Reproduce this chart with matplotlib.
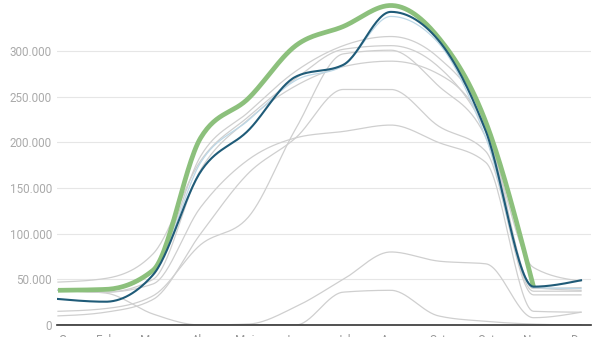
import numpy as np
import matplotlib.pyplot as plt

plt.rcParams['font.family'] = ['Roboto', 'DejaVu Sans']

months = ['Gen', 'Feb', 'Març', 'Abr', 'Maig', 'Juny', 'Jul', 'Ago', 'Set', 'Oct', 'Nov', 'Des']

# other years, drawn in grey behind the two highlighted series
others = [
    [38, 38, 60, 185, 233, 278, 306, 316, 293, 222, 41, 38],
    [47, 51, 78, 180, 228, 270, 302, 306, 283, 212, 63, 48],
    [15, 18, 32, 88, 118, 215, 297, 301, 262, 205, 37, 37],
    [38, 36, 50, 170, 225, 262, 283, 289, 275, 215, 40, 41],
    [10, 14, 28, 100, 166, 205, 258, 258, 218, 190, 33, 33],
    [38, 36, 45, 129, 181, 205, 212, 219, 200, 178, 15, 14],
    [38, 35, 12, 0, 1, 20, 50, 80, 70, 67, 8, 14],
    [0, 0, 0, 0, 0, 0, 36, 38, 10, 4, 1, 0],
]
light_blue = [38, 38, 58, 178, 224, 268, 284, 338, 309, 205, 41, 40]
green = [38, 39, 60, 205, 248, 306, 327, 350, 315, 222, 42, np.nan]
blue = [28.5, 25.5, 55, 168, 213, 272, 285, 343, 312, 212, 42, 49]


def monotone(y, n=30):
    # monotone cubic (same slopes as d3.curveMonotoneX) on x = 0, 1, 2, ...
    y = np.asarray(y, dtype=float) * 1000
    x = np.arange(len(y), dtype=float)
    ok = ~np.isnan(y)
    x, y = x[ok], y[ok]
    h = np.diff(x)
    s = np.diff(y) / h
    t = np.zeros(len(y))
    for i in range(1, len(y) - 1):
        p = (s[i - 1] * h[i] + s[i] * h[i - 1]) / (h[i - 1] + h[i])
        t[i] = (np.sign(s[i - 1]) + np.sign(s[i])) * min(abs(s[i - 1]), abs(s[i]), 0.5 * abs(p))
    t[0] = (3 * s[0] - t[1]) / 2
    t[-1] = (3 * s[-1] - t[-2]) / 2
    xs, ys = [], []
    for i in range(len(y) - 1):
        u = np.linspace(0, 1, n, endpoint=False)
        h00 = 2 * u**3 - 3 * u**2 + 1
        h10 = u**3 - 2 * u**2 + u
        h01 = -2 * u**3 + 3 * u**2
        h11 = u**3 - u**2
        xs.append(x[i] + u * h[i])
        ys.append(h00 * y[i] + h10 * h[i] * t[i] + h01 * y[i + 1] + h11 * h[i] * t[i + 1])
    xs.append([x[-1]])
    ys.append([y[-1]])
    return np.concatenate(xs), np.concatenate(ys)


fig = plt.figure(figsize=(6, 3.37), dpi=100)
ax = fig.add_axes([57 / 600, 12 / 337, 534 / 600, 325 / 337])

for row in others:
    ax.plot(*monotone(row), color='#cfcfcf', lw=0.9, zorder=2)
ax.plot(*monotone(light_blue), color='#bcd7e6', lw=0.9, zorder=2)
ax.plot(*monotone(green), color='#8cc07c', lw=3.4, zorder=3, solid_capstyle='butt')
ax.plot(*monotone(blue), color='#1f5b78', lw=1.5, zorder=4)

ax.set_xlim(-0.021, 11.21)
ax.set_ylim(0, 356000)

yticks = np.arange(0, 300001, 50000)
ax.set_yticks(yticks)
ax.set_yticklabels([f'{v:,}'.replace(',', '.') for v in yticks])
ax.set_xticks(range(len(months)))
ax.set_xticklabels(months)
ax.get_xticklabels()[0].set_horizontalalignment('left')

for v in yticks[1:]:
    ax.axhline(v, color='#e6e6e6', lw=0.8, zorder=1)
ax.axhline(0, color='#333333', lw=1.2, zorder=5, clip_on=False)

for sp in ax.spines.values():
    sp.set_visible(False)
ax.tick_params(axis='y', length=0, pad=3.6, labelsize=8.4, labelcolor='#aaaaaa')
ax.tick_params(axis='x', length=0, pad=6.5, labelsize=8.4, labelcolor='#999999')

fig.savefig('out.png', dpi=100)
